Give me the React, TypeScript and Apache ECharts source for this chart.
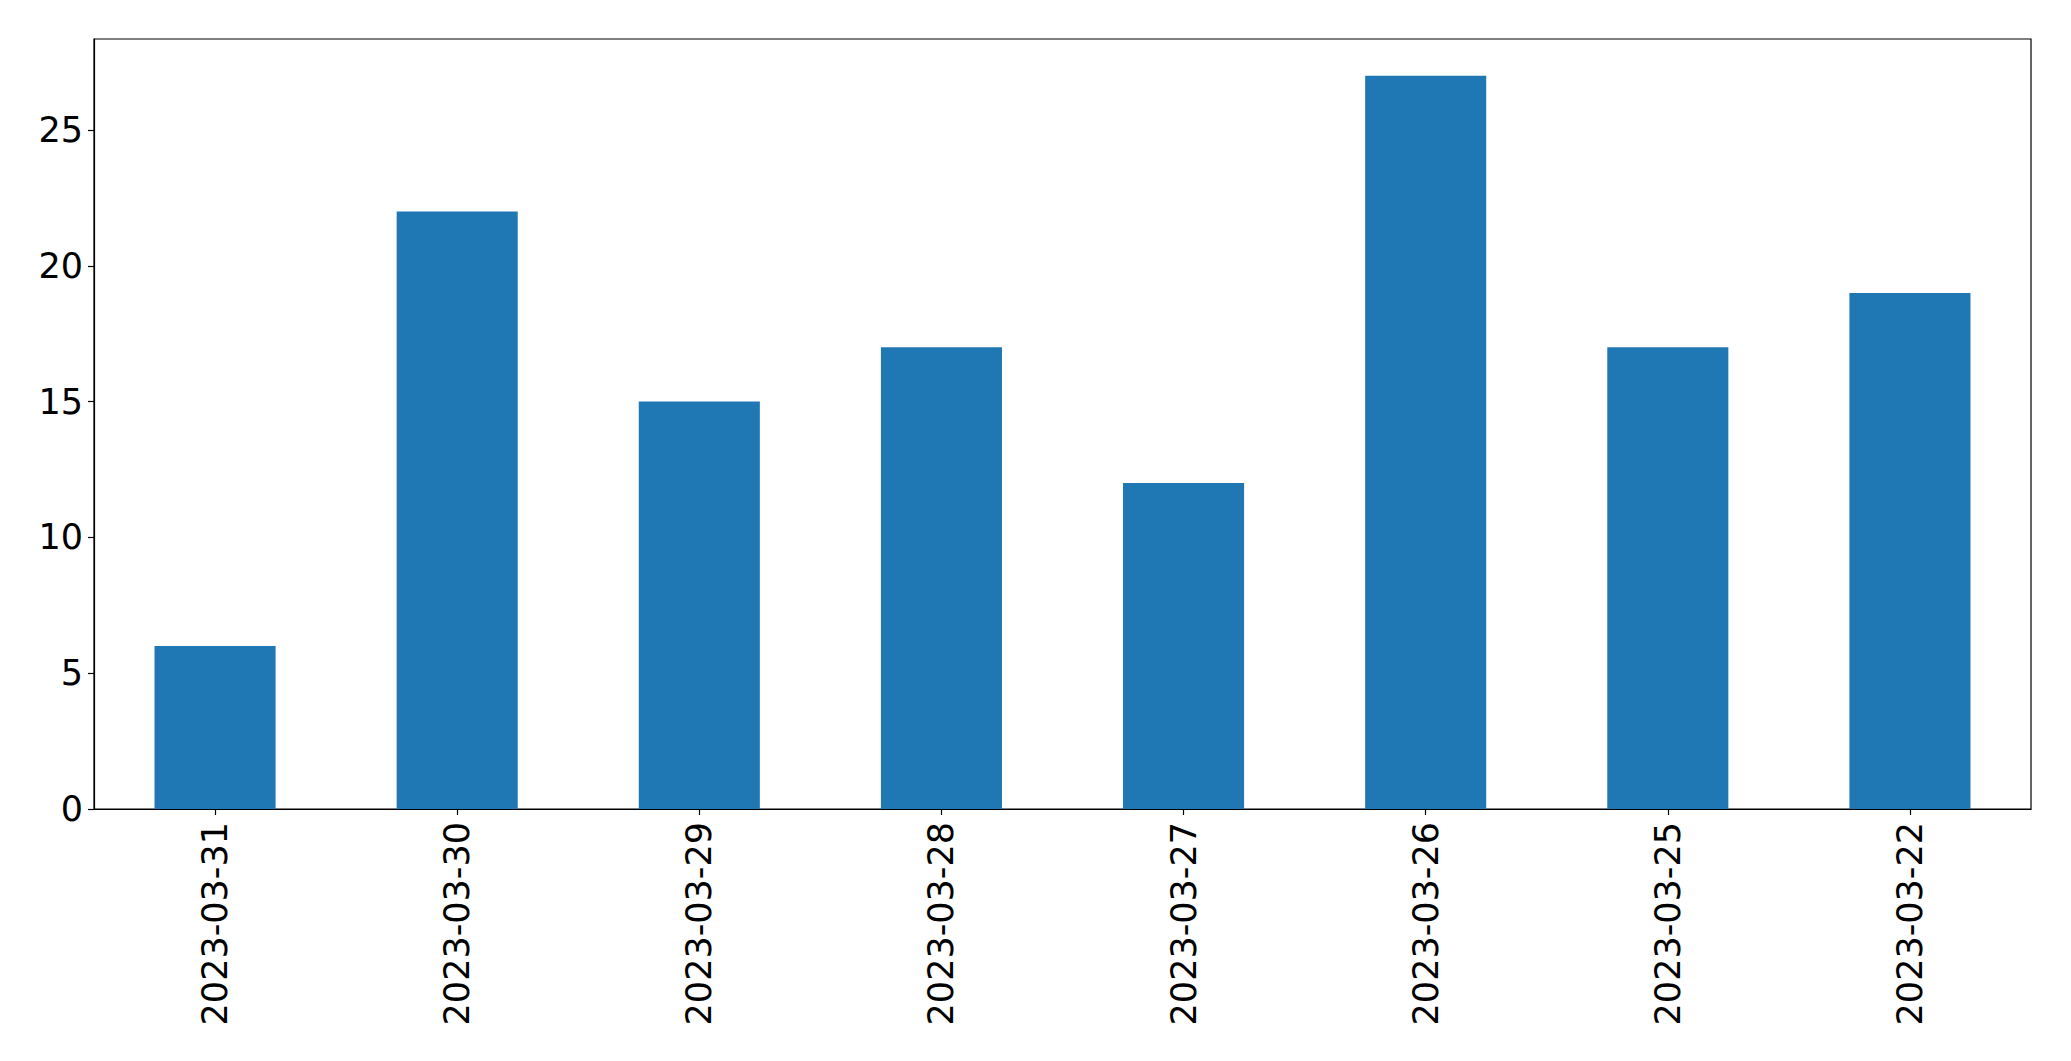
import React, { useEffect, useRef } from "react";
import * as echarts from "echarts";

const categories = [
  "2023-03-31",
  "2023-03-30",
  "2023-03-29",
  "2023-03-28",
  "2023-03-27",
  "2023-03-26",
  "2023-03-25",
  "2023-03-22",
];
const values = [6, 22, 15, 17, 12, 27, 17, 19];
const yTicks = [0, 5, 10, 15, 20, 25];
const yMax = 28.35;

export default function App() {
  const ref = useRef<HTMLDivElement>(null);
  useEffect(() => {
    if (!ref.current) return;
    const chart = echarts.init(ref.current, null, { renderer: "svg" });
    const font = "DejaVu Sans";
    chart.setOption({
      animation: false,
      backgroundColor: "#ffffff",
      grid: {
        left: 94,
        right: 40,
        top: 39,
        bottom: 252,
        show: true,
        borderColor: "#000000",
        borderWidth: 1.2,
        backgroundColor: "transparent",
      },
      xAxis: {
        type: "category",
        data: categories,
        boundaryGap: true,
        axisLine: { show: true, lineStyle: { color: "#000000", width: 1.2 } },
        axisTick: {
          show: true,
          alignWithLabel: true,
          length: 6,
          lineStyle: { color: "#000000", width: 1.2 },
        },
        axisLabel: {
          rotate: 90,
          margin: 13,
          color: "#000000",
          fontFamily: font,
          fontSize: 35,
          interval: 0,
        },
        splitLine: { show: false },
      },
      yAxis: {
        type: "value",
        min: 0,
        max: yMax,
        interval: 5,
        axisLine: { show: true, lineStyle: { color: "#000000", width: 1.2 } },
        axisTick: {
          show: true,
          length: 6,
          customValues: yTicks,
          lineStyle: { color: "#000000", width: 1.2 },
        },
        axisLabel: {
          margin: 11,
          color: "#000000",
          fontFamily: font,
          fontSize: 35,
          customValues: yTicks,
        },
        splitLine: { show: false },
      },
      series: [
        {
          type: "bar",
          data: values,
          barWidth: "50%",
          itemStyle: { color: "#1f77b4" },
        },
      ],
    });
    return () => chart.dispose();
  }, []);
  return (
    <div
      ref={ref}
      style={{ position: "fixed", left: 0, top: 0, width: 2071, height: 1061 }}
    />
  );
}
